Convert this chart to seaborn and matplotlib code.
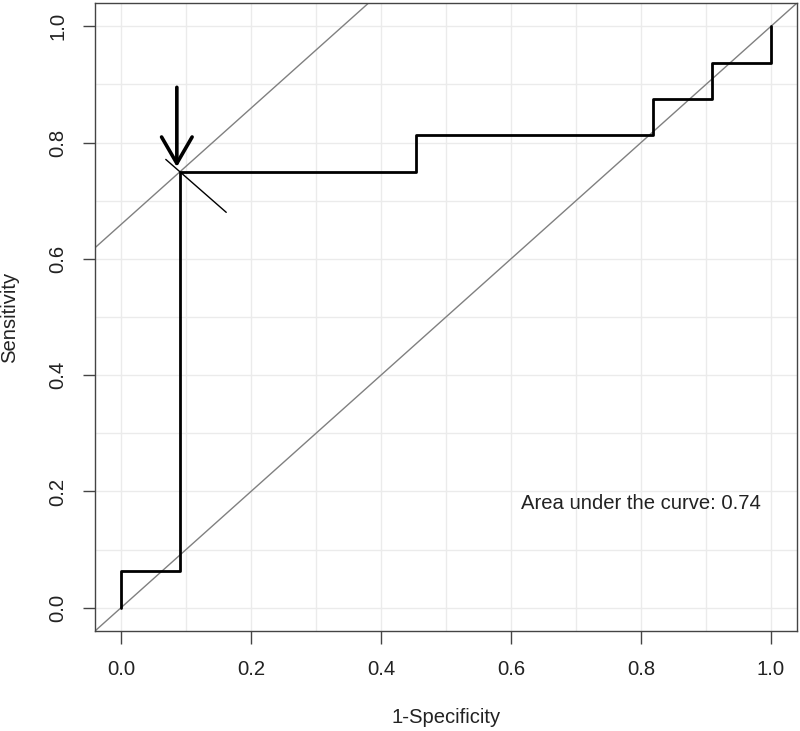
import numpy as np
import pandas as pd
import matplotlib
matplotlib.use("Agg")
import matplotlib.pyplot as plt
import seaborn as sns

# ROC curve points (1-specificity, sensitivity)
fpr = [0.0, 0.0, 1/11, 1/11, 5/11, 5/11, 9/11, 9/11, 10/11, 10/11, 1.0, 1.0]
tpr = [0.0, 0.0625, 0.0625, 0.75, 0.75, 0.8125, 0.8125, 0.875, 0.875, 0.9375, 0.9375, 1.0]
# best cut-off point
best_fpr = 1/11
best_tpr = 0.75
ticks = [0.0, 0.2, 0.4, 0.6, 0.8, 1.0]
tick_labels = ["0.0", "0.2", "0.4", "0.6", "0.8", "1.0"]

df = pd.DataFrame({"fpr": fpr, "tpr": tpr})
auc = np.trapezoid(df["tpr"], df["fpr"])

sns.set_theme(style="whitegrid")
plt.rcParams['font.family'] = ['Liberation Sans', 'DejaVu Sans']
fs = 14.6

fig = plt.figure(figsize=(8, 7.31), dpi=100)
ax = fig.add_axes([95/800, 100/731, 702/800, 628/731])

ax.axline((0, 0), slope=1, color="#808080", lw=1, zorder=2)
ax.axline((best_fpr, best_tpr), slope=1, color="#808080", lw=1, zorder=2)

sns.lineplot(data=df, x="fpr", y="tpr", sort=False, estimator=None,
             color="black", lw=2, ax=ax, zorder=3)

# short perpendicular line at the best point
ax.plot([best_fpr - 0.022, best_fpr + 0.071], [best_tpr + 0.021, best_tpr - 0.07],
        color="black", lw=1, zorder=3)

# arrow pointing to the best point
ax.annotate("", xy=(best_fpr - 0.005, best_tpr + 0.008),
            xytext=(best_fpr - 0.005, best_tpr + 0.145),
            arrowprops=dict(arrowstyle="->,head_length=1.9,head_width=1.1",
                            mutation_scale=10, lw=2.6, color="black",
                            shrinkA=0, shrinkB=0), zorder=4)

ax.text(0.80, 0.18, f"Area under the curve: {auc:.2f}", ha="center", va="center",
        fontsize=fs, color="#222222")

ax.set_xlim(-0.04, 1.04)
ax.set_ylim(-0.04, 1.04)
ax.set_xticks(ticks)
ax.set_xticklabels(tick_labels)
ax.set_yticks(ticks)
ax.set_yticklabels(tick_labels, rotation=90, va="center")
ax.set_xticks(np.arange(0, 1.01, 0.1), minor=True)
ax.set_yticks(np.arange(0, 1.01, 0.1), minor=True)
ax.grid(True, which="both", color="#ebebeb", lw=1)
ax.tick_params(which="major", direction="out", length=9, width=1, color="#444444",
               labelsize=fs, labelcolor="#222222", pad=12, left=True, bottom=True)
ax.tick_params(axis="y", pad=11)
ax.tick_params(which="minor", length=0)

for s in ax.spines.values():
    s.set_color("#444444")
    s.set_linewidth(1)

ax.set_xlabel("1-Specificity", fontsize=fs, labelpad=21, color="#222222")
ax.set_ylabel("Sensitivity", fontsize=fs, labelpad=21, color="#222222")

fig.savefig("out.png", dpi=100)
